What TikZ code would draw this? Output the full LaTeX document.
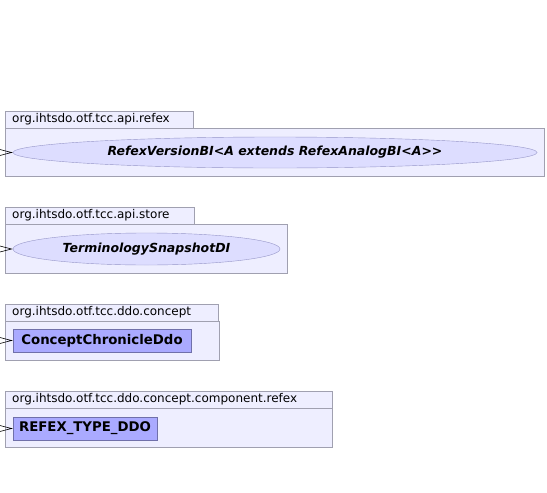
\documentclass[tikz,border=0pt]{standalone}
\usepackage{fontspec}
\setmainfont{DejaVu Sans}
\usetikzlibrary{arrows.meta, positioning, shapes.geometric}
\definecolor{pkgfill}{RGB}{238,238,255}
\definecolor{pkgline}{RGB}{160,160,176}
\definecolor{ifacefill}{RGB}{221,221,255}
\definecolor{ifaceline}{RGB}{150,150,200}
\definecolor{clsfill}{RGB}{170,170,255}
\definecolor{clsline}{RGB}{112,112,170}

\begin{document}
\begin{tikzpicture}[
    x=1pt, y=1pt,
    pkgbody/.style={rectangle, draw=pkgline, fill=pkgfill, anchor=north west,
                    inner sep=0pt},
    pkgtab/.style={rectangle, draw=pkgline, fill=pkgfill, anchor=south west,
                   inner xsep=7pt, inner ysep=0pt, minimum height=17pt,
                   align=left, text width=#1,
                   font=\fontsize{12}{13}\selectfont},
    iface/.style={ellipse, draw=ifaceline, fill=ifacefill, inner sep=0pt,
                  font=\fontsize{12.5}{14}\selectfont\bfseries\itshape},
    cls/.style={rectangle, draw=clsline, fill=clsfill, inner sep=0pt,
                minimum height=23pt, font=\fontsize{13.3}{15}\selectfont\bfseries},
    dep/.style={-{Triangle[open, length=16pt, width=8pt]}, semithick, black}
]
\useasboundingbox (0,0) rectangle (547,-493);

% Package 1: api.refex
\node[pkgbody, minimum width=539pt, minimum height=48pt] (refexbody) at (5,-128) {};
\node[pkgtab=174pt] (refextab) at (refexbody.north west) {org.ihtsdo.otf.tcc.api.refex};
\node[iface, minimum width=524pt, minimum height=31pt] (refexver) at (275,-152.5)
  {RefexVersionBI<A extends RefexAnalogBI<A>{}>};

% Package 2: api.store
\node[pkgbody, minimum width=282pt, minimum height=49pt] (storebody) at (5,-224) {};
\node[pkgtab=175pt] (storetab) at (storebody.north west) {org.ihtsdo.otf.tcc.api.store};
\node[iface, minimum width=267pt, minimum height=32pt] (termsnap) at (146.5,-249)
  {TerminologySnapshotDI};

% Package 3: ddo.concept
\node[pkgbody, minimum width=214pt, minimum height=39pt] (conceptbody) at (5,-321) {};
\node[pkgtab=199pt] (concepttab) at (conceptbody.north west) {org.ihtsdo.otf.tcc.ddo.concept};
\node[cls, minimum width=178pt] (conchron) at (102,-340.5) {ConceptChronicleDdo};

% Package 4: ddo.concept.component.refex
\node[pkgbody, minimum width=327pt, minimum height=39pt] (compbody) at (5,-408) {};
\node[pkgtab=313pt] (comptab) at (compbody.north west) {org.ihtsdo.otf.tcc.ddo.concept.component.refex};
\node[cls, minimum width=144pt] (refextype) at (85,-428.5) {REFEX\_TYPE\_DDO};

% Incoming dependencies from outside the view
\coordinate (inrefex) at (-30,-152.5);
\coordinate (instore) at (-30,-249);
\coordinate (inconcept) at (-30,-340.5);
\coordinate (incomp) at (-30,-428.5);
\draw[dep] (inrefex) -- (refexver.west);
\draw[dep] (instore) -- (termsnap.west);
\draw[dep] (inconcept) -- (conchron.west);
\draw[dep] (incomp) -- (refextype.west);
\end{tikzpicture}
\end{document}
